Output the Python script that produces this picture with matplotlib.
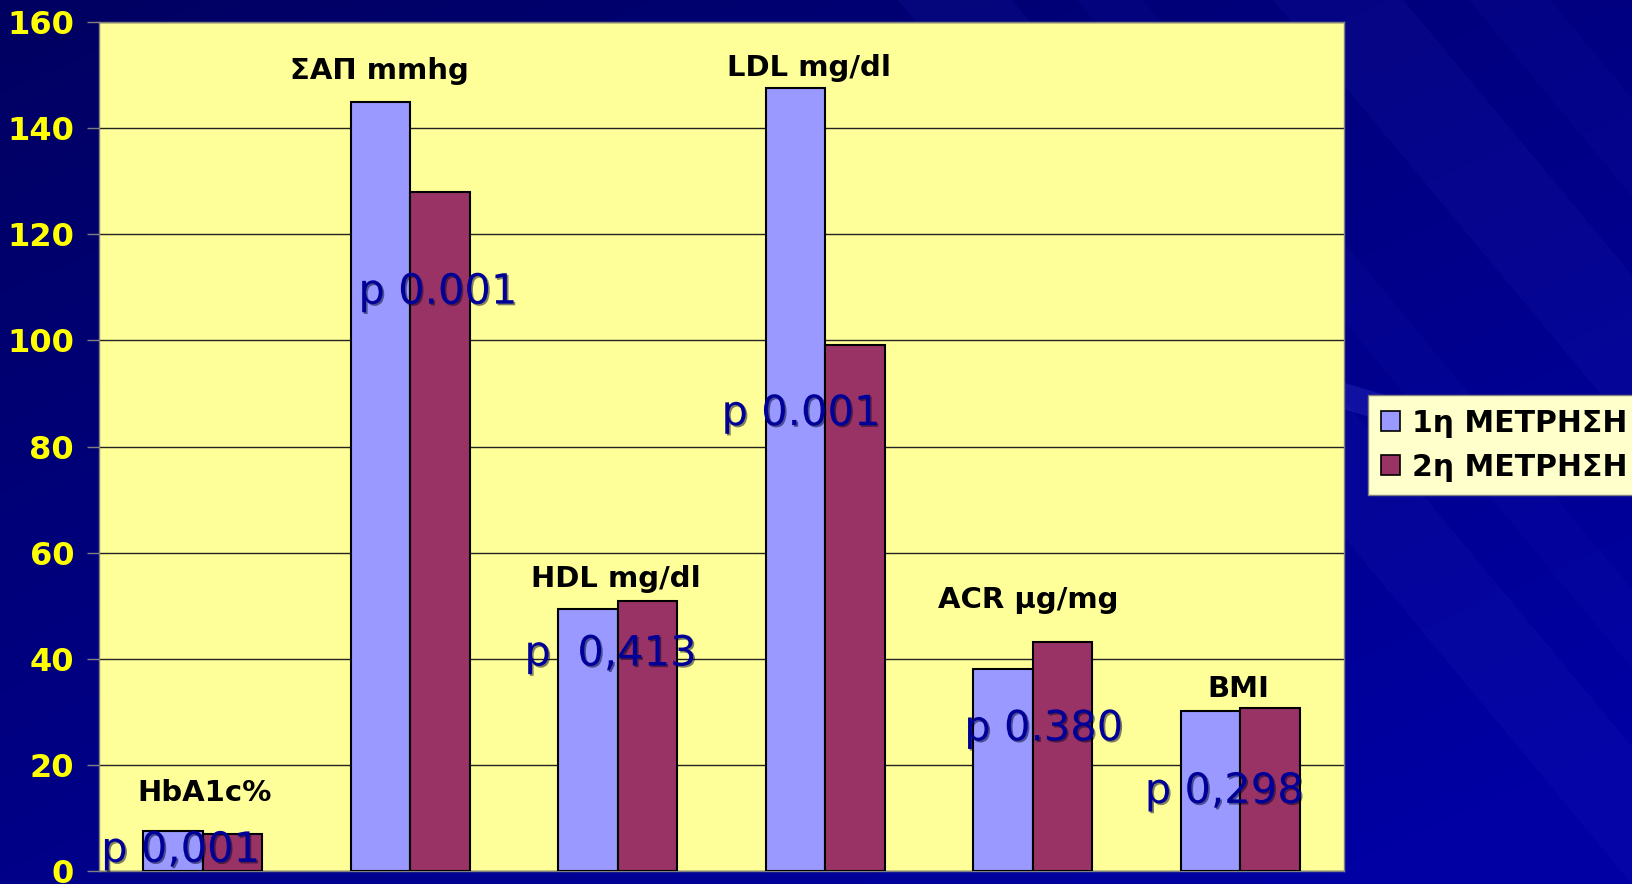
import numpy as np
import matplotlib.pyplot as plt
import matplotlib.patheffects as pe
from matplotlib.patches import Polygon

# data
categories = ['HbA1c%', 'ΣΑΠ mmhg', 'HDL mg/dl', 'LDL mg/dl', 'ACR μg/mg', 'BMI']
first = [7.5, 145.0, 49.4, 147.5, 38.0, 30.2]
second = [6.9, 127.9, 50.8, 99.1, 43.1, 30.7]
pvalues = ['p 0,001', 'p 0.001', 'p  0,413', 'p 0.001', 'p 0.380', 'p 0,298']
series_names = ['1η ΜΕΤΡΗΣΗ', '2η ΜΕΤΡΗΣΗ']
yticks = [0, 20, 40, 60, 80, 100, 120, 140, 160]

# where the slide put its text boxes (category units / value units)
name_x = [0.01, 0.85, 1.99, 2.92, 3.98, 4.99]
name_y = [14.7, 150.8, 55.0, 151.4, 51.0, 34.3]
p_x = [-0.49, 0.75, 1.55, 2.50, 3.67, 4.54]
p_y = [4.0, 109.2, 41.0, 86.3, 26.9, 15.1]

fig = plt.figure(figsize=(16.32, 8.84), dpi=100)

# slide background: dark blue gradient with diagonal streaks
bg = fig.add_axes([0, 0, 1, 1], zorder=-10)
h, w = 221, 408
yy, xx = np.mgrid[0:h, 0:w]
t = (xx / w * 0.5 + yy / h * 0.6)
img = np.zeros((h, w, 3))
img[..., 2] = 0.38 + 0.26 * np.clip(t, 0, 1)
bg.imshow(img, aspect='auto', extent=[0, 1, 0, 1], origin='upper')
for x0, x1, a in [(0.55, 0.62, 0.10), (0.66, 0.70, 0.08), (0.78, 0.86, 0.10), (0.90, 0.95, 0.07)]:
    bg.add_patch(Polygon([[x0, 1], [x1, 1], [x1 + 0.45, 0], [x0 + 0.45, 0]],
                         closed=True, color='#3333cc', alpha=a, lw=0))
bg.add_patch(Polygon([[0.80, 0.58], [1, 0.47], [1, 0.44], [0.80, 0.55]],
                     closed=True, color='#4444dd', alpha=0.25, lw=0))
bg.set_xlim(0, 1)
bg.set_ylim(0, 1)
bg.axis('off')

ax = fig.add_axes([0.0607, 0.0147, 0.7628, 0.9603])
ax.set_facecolor('#ffff99')
x = np.arange(len(categories))
bw = 0.286
ax.bar(x - bw / 2, first, bw, color='#9999ff', edgecolor='black', linewidth=1.5,
       label=series_names[0], zorder=3)
ax.bar(x + bw / 2, second, bw, color='#993366', edgecolor='black', linewidth=1.5,
       label=series_names[1], zorder=3)

ax.set_xlim(-0.5, len(categories) - 0.5)
ax.set_ylim(0, 160)
ax.set_yticks(yticks)
ax.set_yticklabels([str(v) for v in yticks], color='#ffff00', fontsize=23,
                   fontweight='bold')
ax.tick_params(axis='y', length=9, width=1, color='#808080', pad=9)
ax.set_xticks([])
ax.yaxis.grid(True, color='#222222', linewidth=1)
ax.set_axisbelow(True)
for s in ax.spines.values():
    s.set_color('#808080')
    s.set_linewidth(1)

for i, name in enumerate(categories):
    ax.text(name_x[i], name_y[i], name, ha='center', va='center', fontsize=21,
            fontweight='bold', color='black', zorder=5)
    ax.text(p_x[i], p_y[i], pvalues[i], ha='left', va='center', fontsize=30,
            color='#000099', zorder=6,
            path_effects=[pe.withSimplePatchShadow(offset=(1.2, -1.2),
                                                   shadow_rgbFace='#000022', alpha=0.5)])

leg = fig.legend(loc='upper left', bbox_to_anchor=(0.838, 0.553),
                 prop={'weight': 'bold', 'size': 21.5}, frameon=True, fancybox=False,
                 handlelength=0.65, handleheight=0.65, handletextpad=0.4,
                 borderpad=0.45, labelspacing=0.5, borderaxespad=0)
leg.get_frame().set_facecolor('#ffffcc')
leg.get_frame().set_edgecolor('#808080')
leg.get_frame().set_alpha(1)
for p in leg.get_patches():
    p.set_linewidth(1.2)

fig.savefig('out.png', dpi=100)
